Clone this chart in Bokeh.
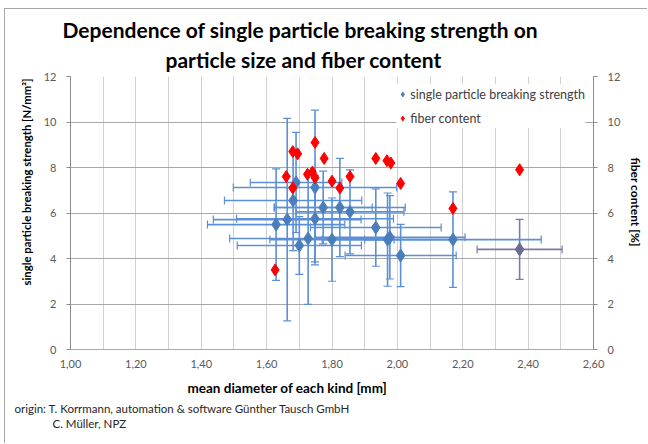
from bokeh.plotting import figure
from bokeh.models import (ColumnDataSource, Whisker, TeeHead, FixedTicker, LinearAxis,
                          Range1d, Legend, LegendItem, Title)
from bokeh.embed import file_html
from bokeh.resources import INLINE

# ---- data ----
diam = [1.629, 1.663, 1.681, 1.690, 1.700, 1.727, 1.748, 1.748, 1.773, 1.800,
        1.824, 1.855, 1.934, 1.970, 1.977, 2.010, 2.170, 2.374]
strength = [5.49, 5.71, 6.55, 7.34, 4.57, 4.88, 7.12, 5.75, 6.24, 4.83,
            6.24, 6.05, 5.36, 4.83, 4.93, 4.13, 4.83, 4.40]
strength_err = [2.45, 4.45, 2.20, 2.20, 1.27, 2.90, 3.40, 1.90, 1.60, 1.83,
                2.16, 1.85, 1.70, 2.05, 1.83, 1.37, 2.10, 1.32]
diam_err = [0.21, 0.226, 0.21, 0.14, 0.19, 0.24, 0.25, 0.24, 0.15, 0.19,
            0.20, 0.165, 0.20, 0.20, 0.23, 0.17, 0.27, 0.13]
point_color = ["#4a7ebb"] * 17 + ["#6a6c93"]
bar_color = ["#5b8fd6"] * 17 + ["#7a7ca3"]

fiber_diam = [1.626, 1.660, 1.680, 1.695, 1.680, 1.725, 1.740, 1.748, 1.748, 1.776,
              1.800, 1.824, 1.855, 1.934, 1.968, 1.980, 2.010, 2.170, 2.374]
fiber = [3.5, 7.6, 8.7, 8.6, 7.1, 7.7, 7.8, 7.55, 9.1, 8.4,
         7.4, 7.1, 7.6, 8.4, 8.3, 8.2, 7.3, 6.2, 7.9]

x_ticks = [1.0, 1.2, 1.4, 1.6, 1.8, 2.0, 2.2, 2.4, 2.6]
x_tick_labels = ["1,00", "1,20", "1,40", "1,60", "1,80", "2,00", "2,20", "2,40", "2,60"]
x_grid = [1.0, 1.1, 1.2, 1.3, 1.4, 1.5, 1.6, 1.7, 1.8, 1.9, 2.0, 2.1, 2.2, 2.3, 2.4, 2.5, 2.6]
y_ticks = [0, 2, 4, 6, 8, 10, 12]

title_lines = ["Dependence of single particle breaking strength on",
               "particle size and fiber content"]
x_label = "mean diameter of each kind [mm]"
y_label = "single particle breaking strength [N/mm²]"
y2_label = "fiber content [%]"
origin_lines = ["origin: T. Korrmann, automation & software Günther Tausch GmbH",
                "C. Müller, NPZ"]

FONT = "Lato"
W, H = 643, 435

src = ColumnDataSource(dict(
    x=diam, y=strength,
    ylo=[s - e for s, e in zip(strength, strength_err)],
    yhi=[s + e for s, e in zip(strength, strength_err)],
    xlo=[d - e for d, e in zip(diam, diam_err)],
    xhi=[d + e for d, e in zip(diam, diam_err)],
    pc=point_color, bc=bar_color,
))
fsrc = ColumnDataSource(dict(x=fiber_diam, y=fiber))

p = figure(width=W, height=H, output_backend="svg", toolbar_location=None,
           x_range=Range1d(1.0, 2.6), y_range=Range1d(0, 12),
           min_border_left=65, min_border_right=53, min_border_top=67, min_border_bottom=95)
p.styles = {"margin-left": "4px", "margin-top": "8px",
            "border-left": "1px solid #a6a6a6", "border-top": "1px solid #a6a6a6"}
p.outline_line_color = None
p.background_fill_color = "white"
p.border_fill_color = "white"

p.extra_y_ranges = {"fiber": Range1d(0, 12)}

# grids
p.xgrid.ticker = FixedTicker(ticks=x_grid)
p.xgrid.grid_line_color = "#d0d0d0"
p.ygrid.ticker = FixedTicker(ticks=y_ticks)
p.ygrid.grid_line_color = "#a8a8a8"

def style_axis(ax):
    ax.axis_line_color = "#8c8c8c"
    ax.major_tick_line_color = "#8c8c8c"
    ax.minor_tick_line_color = None
    ax.major_tick_in = 0
    ax.major_tick_out = 4
    ax.major_label_text_font = FONT
    ax.major_label_text_font_size = "11px"
    ax.major_label_text_color = "#595959"
    ax.major_label_standoff = 10

xa = p.xaxis[0]
xa.ticker = FixedTicker(ticks=x_ticks)
xa.major_label_overrides = {t: l for t, l in zip(x_ticks, x_tick_labels)}
style_axis(xa)
xa.major_tick_out = 0
xa.axis_line_color = "#a8a8a8"

ya = p.yaxis[0]
ya.ticker = FixedTicker(ticks=y_ticks)
style_axis(ya)

ya2 = LinearAxis(y_range_name="fiber", ticker=FixedTicker(ticks=y_ticks))
style_axis(ya2)
p.add_layout(ya2, "right")

# error bars
def tee():
    return TeeHead(size=8, line_color="bc", line_width=1.2)

p.add_layout(Whisker(source=src, base="x", lower="ylo", upper="yhi", dimension="height",
                     line_color="bc", line_width=1.6, lower_head=tee(), upper_head=tee()))
p.add_layout(Whisker(source=src, base="y", lower="xlo", upper="xhi", dimension="width",
                     line_color="bc", line_width=1.6, lower_head=tee(), upper_head=tee()))

r_blue = p.scatter("x", "y", source=src, marker="diamond", size=13,
                   fill_color="pc", line_color="pc")
r_red = p.scatter("x", "y", source=fsrc, marker="diamond", size=12, y_range_name="fiber",
                  fill_color="#ff0000", line_color="#ff0000")

legend = Legend(items=[LegendItem(label="single particle breaking strength", renderers=[r_blue]),
                       LegendItem(label="fiber content", renderers=[r_red])],
                location="top_right", margin=8, padding=4, spacing=4,
                label_text_font=FONT, label_text_font_size="12.5px", label_text_color="#404040",
                label_height=20, glyph_width=12, glyph_height=12, label_standoff=2,
                border_line_color=None, background_fill_alpha=1.0)
p.add_layout(legend)

def ttl(text, where, size, bold=True, align="left", offset=0, standoff=0, color="#000000"):
    p.add_layout(Title(text=text, align=align, offset=offset, standoff=standoff,
                       text_font=FONT, text_font_style="bold" if bold else "normal",
                       text_font_size=size, text_color=color), where)

# title: line nearest the plot first
ttl(title_lines[1], "above", "21px", offset=95, standoff=9)
ttl(title_lines[0], "above", "21px", offset=-8, standoff=-3)
# axis titles
ttl(x_label, "below", "13.5px", offset=117, standoff=14)
ttl(y_label, "left", "11.3px", offset=64, standoff=16)
ttl(y2_label, "right", "12px", offset=81, standoff=8)
# origin note
ttl(origin_lines[0], "below", "11.5px", bold=False, offset=-56, standoff=-6, color="#262626")
ttl(origin_lines[1], "below", "11.5px", bold=False, offset=-18, standoff=6, color="#262626")

open("out.html", "w").write(file_html(p, INLINE))
